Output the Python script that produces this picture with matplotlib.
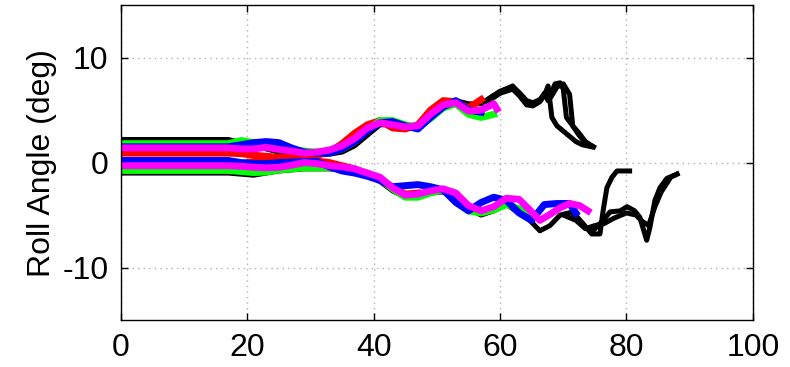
"""Roll angle traces, recreated with matplotlib."""

import matplotlib

matplotlib.use("Agg")
import matplotlib.pyplot as plt

plt.rcParams["font.family"] = ["Liberation Sans", "DejaVu Sans"]
plt.rcParams["axes.unicode_minus"] = False

# --- upper group (rolls positive) ---
t_up_black = [0, 17, 19, 21, 23, 25, 27, 29, 31, 33, 35, 37, 39, 41, 43, 45, 47, 49,
              51, 53, 55, 57, 59, 60.5, 62, 63, 64.2, 65.2, 66.3, 67, 67.6, 68.7,
              69.5, 70, 70.5, 71.5, 72.5, 73.5, 74.5]
v_up_black = [2.2, 2.2, 1.9, 1.6, 1.3, 1.0, 0.9, 0.8, 0.8, 0.8, 1.0, 1.6, 2.6, 3.6,
              3.6, 3.3, 3.3, 4.2, 5.2, 5.9, 5.6, 5.6, 6.4, 6.9, 7.3, 6.6, 5.7, 5.6,
              5.9, 6.6, 5.9, 7.5, 7.6, 7.0, 4.3, 3.5, 2.8, 2.0, 1.6]
t_up_black2 = [58, 60, 62, 63, 64.2, 65.2, 66.3, 67, 67.6, 68.2, 68.7, 69, 70, 71,
               72, 73, 74.5]
v_up_black2 = [5.8, 6.6, 7.0, 6.4, 5.5, 5.4, 5.8, 6.4, 7.3, 4.3, 3.8, 3.5, 3.0, 2.5,
               2.0, 1.7, 1.5]
t_up_black3 = [58, 60, 62, 63, 64.2, 65.2, 66.3, 67, 68, 69, 70, 71, 71.5, 72.5,
               73.5, 74.8]
v_up_black3 = [6.0, 6.8, 7.2, 6.7, 5.9, 5.7, 6.0, 6.5, 6.2, 7.2, 7.5, 6.5, 3.5, 2.6,
               1.9, 1.5]

t_up_red = [0, 17, 19, 21, 23, 25, 27, 29, 31, 33, 35, 37, 39, 41, 43, 45, 47, 49,
            51, 53, 55, 57]
v_up_red = [0.9, 0.9, 0.85, 0.7, 0.6, 0.5, 0.5, 0.6, 0.7, 1.0, 1.8, 2.8, 3.6, 4.0,
            3.3, 3.2, 3.6, 5.0, 5.9, 5.8, 5.2, 6.0]

t_up_green = [0, 17, 19, 21, 23, 25, 27, 29, 31, 33, 35, 37, 39, 41, 43, 45, 47, 49,
              51, 53, 55, 57, 59]
v_up_green = [1.8, 1.8, 2.1, 1.9, 1.6, 1.4, 1.2, 1.1, 1.0, 1.0, 1.3, 2.0, 3.1, 4.0,
              4.0, 3.6, 3.4, 4.2, 5.2, 5.6, 4.6, 4.3, 4.6]

t_up_blue = [0, 17, 19, 21, 23, 25, 27, 29, 31, 33, 35, 37, 39, 41, 43, 45, 47, 49,
             51, 53, 55, 57]
v_up_blue = [1.5, 1.5, 1.7, 1.9, 2.0, 1.9, 1.4, 1.0, 0.9, 0.9, 1.3, 2.0, 3.0, 3.8,
             3.9, 3.5, 3.2, 4.3, 5.3, 5.9, 5.0, 4.8]

t_up_magenta = [0, 17, 19, 21, 23, 25, 27, 29, 31, 33, 35, 37, 39, 41, 43, 45, 47,
                49, 51, 53, 55, 57, 59, 59.5]
v_up_magenta = [1.4, 1.4, 1.3, 1.3, 1.45, 1.25, 1.1, 0.9, 1.0, 1.2, 1.6, 2.3, 3.3,
                3.8, 3.6, 3.4, 3.5, 4.6, 5.5, 5.7, 4.9, 5.0, 5.6, 5.1]

# --- lower group (rolls negative) ---
t_lo_black = [0, 17, 19, 21, 23, 25, 27, 29, 31, 33, 35, 37, 39, 41, 43, 45, 47, 49,
              51, 53, 55, 57, 59, 61, 62, 64.7, 66.3, 67.9, 69.5, 71.5, 73.1, 74.5,
              75.8, 76.3, 76.9, 77.7, 78.5, 80.5]
v_lo_black = [-1.0, -1.0, -1.1, -1.2, -1.0, -0.8, -0.7, -0.6, -0.6, -0.6, -0.7, -0.8,
              -1.2, -1.8, -2.7, -3.3, -3.2, -2.9, -2.8, -3.5, -4.4, -5.0, -4.6, -4.0,
              -4.4, -5.5, -6.5, -6.0, -5.0, -4.7, -5.8, -6.8, -6.8, -4.6, -2.4, -1.4,
              -0.8, -0.8]
t_lo_black2 = [71.5, 73.1, 74.7, 76.3, 77.4, 79, 80.1, 81.3, 82.1, 83.2, 83.7, 84.5,
               85.3, 86.4, 88]
v_lo_black2 = [-4.9, -6.0, -6.5, -5.5, -4.7, -4.6, -4.2, -4.6, -5.2, -7.4, -6.2,
               -3.6, -2.4, -1.5, -1.1]
t_lo_black3 = [70, 72, 73.5, 75, 76.5, 78, 80, 81.5, 82.5, 83.5, 84.5, 85.5, 87, 88]
v_lo_black3 = [-5.0, -5.5, -6.3, -6.0, -5.8, -5.3, -4.8, -5.0, -5.6, -6.0, -4.2,
               -2.8, -1.4, -1.1]

t_lo_red = [0, 17, 19, 21, 23, 25, 27, 29, 31, 33, 35, 37, 39, 41, 43, 45, 47]
v_lo_red = [-0.3, -0.3, -0.1, 0.1, 0.3, 0.4, 0.3, 0.2, 0.15, 0.0, -0.3, -0.6, -1.1,
            -1.5, -2.4, -3.0, -2.9]

t_lo_green = [0, 17, 19, 21, 23, 25, 27, 29, 31, 33, 35, 37, 39, 41, 43, 45, 47, 49,
              51, 53, 55, 57, 59, 61, 63, 64.5]
v_lo_green = [-0.75, -0.75, -0.85, -0.95, -0.9, -0.7, -0.6, -0.5, -0.5, -0.45, -0.5,
              -0.7, -1.0, -1.6, -2.5, -3.3, -3.3, -2.9, -2.6, -3.2, -4.6, -4.8, -4.5,
              -4.0, -4.4, -5.0]

t_lo_blue = [0, 17, 19, 21, 23, 25, 27, 29, 31, 33, 35, 37, 39, 41, 43, 45, 47, 49,
             51, 53, 55, 57, 59, 61, 63, 65, 67, 69, 71, 72]
v_lo_blue = [0.2, 0.2, 0.0, -0.1, -0.1, 0.0, 0.05, 0.1, 0.1, -0.4, -0.8, -1.0, -1.3,
             -1.7, -2.3, -2.2, -2.1, -2.3, -2.6, -3.8, -4.6, -3.8, -3.3, -3.6, -4.8,
             -5.5, -4.0, -3.9, -3.9, -4.8]

t_lo_magenta = [0, 17, 19, 21, 23, 25, 27, 29, 31, 33, 35, 37, 39, 41, 43, 45, 47,
                49, 51, 53, 55, 57, 59, 61, 63, 65, 66.3, 68, 69.5, 71, 72.6, 73.9]
v_lo_magenta = [-0.3, -0.3, -0.35, -0.45, -0.5, -0.45, -0.25, 0.0, -0.1, -0.3, -0.4,
                -0.6, -1.0, -1.4, -2.4, -3.1, -3.0, -2.7, -2.5, -2.9, -4.1, -4.6,
                -4.2, -3.4, -3.5, -4.7, -5.5, -4.9, -4.3, -3.9, -4.1, -4.6]

x_ticks = [0, 20, 40, 60, 80, 100]
y_ticks = [-10, 0, 10]

fig = plt.figure(figsize=(7.9, 3.67), dpi=100)
ax = fig.add_axes([0.153, 0.128, 0.8, 0.858])

black_lw = 3.6
color_lw = 5.0
for t, v in [(t_up_black, v_up_black), (t_up_black2, v_up_black2),
             (t_up_black3, v_up_black3), (t_lo_black, v_lo_black),
             (t_lo_black2, v_lo_black2), (t_lo_black3, v_lo_black3)]:
    ax.plot(t, v, color="black", lw=black_lw, solid_joinstyle="round")

for t, v, c in [(t_up_red, v_up_red, "#ff0000"), (t_lo_red, v_lo_red, "#ff0000"),
                (t_up_green, v_up_green, "#00ff00"), (t_lo_green, v_lo_green, "#00ff00"),
                (t_up_blue, v_up_blue, "#0000ff"), (t_lo_blue, v_lo_blue, "#0000ff"),
                (t_up_magenta, v_up_magenta, "#ff00ff"),
                (t_lo_magenta, v_lo_magenta, "#ff00ff")]:
    ax.plot(t, v, color=c, lw=color_lw, solid_joinstyle="round")

ax.set_xlim(0, 100)
ax.set_ylim(-15, 15)
ax.set_xticks(x_ticks)
ax.set_yticks(y_ticks)
ax.grid(True, color="#b0b0b0", linestyle=(0, (1, 3)), linewidth=1)
ax.tick_params(direction="in", length=5, width=1, labelsize=23, pad=9,
               top=True, right=True)
for s in ax.spines.values():
    s.set_linewidth(1)
ax.set_ylabel("Roll Angle (deg)", fontsize=23, labelpad=4)

fig.savefig("out.png", dpi=100)
